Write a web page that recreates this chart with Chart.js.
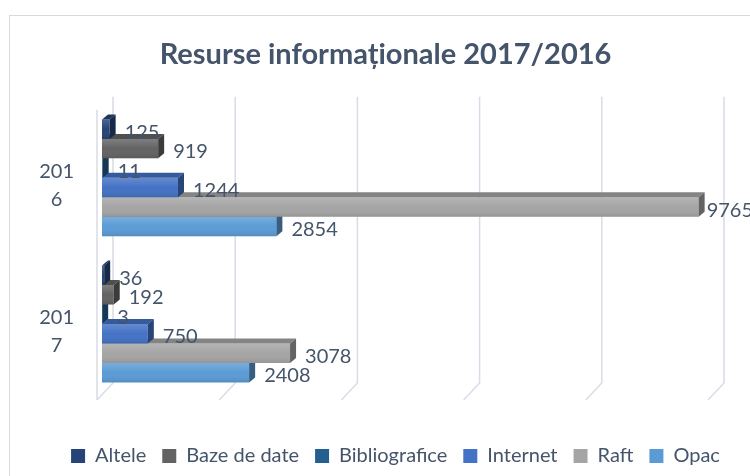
<!DOCTYPE html>
<html>
<head>
<meta charset="utf-8">
<script src="https://cdn.jsdelivr.net/npm/chart.js@4.4.0/dist/chart.umd.min.js"></script>
<style>
  html, body { margin: 0; padding: 0; background: #fff; overflow: hidden; }
  #wrap { position: relative; width: 750px; height: 476px; }
  #frame { position: absolute; left: 9px; top: 15px; width: 800px; height: 500px; border: 1px solid #d9d9d9; box-sizing: border-box; }
  canvas { position: absolute; left: 0; top: 0; }
</style>
</head>
<body>
<div id="wrap">
  <div id="frame"></div>
  <canvas id="chart" width="750" height="476"></canvas>
</div>
<script>
// data
const years = ['2016', '2017'];
const seriesNames = ['Altele', 'Baze de date', 'Bibliografice', 'Internet', 'Raft', 'Opac'];
const altele = [125, 36];
const bazeDeDate = [919, 192];
const bibliografice = [11, 3];
const internet = [1244, 750];
const raft = [9765, 3078];
const opac = [2854, 2408];

const seriesColors = ['#264478', '#636363', '#255e91', '#4472c4', '#a5a5a5', '#5b9bd5'];
const TEXT = '#44546a';
const GRID = '#d9dce6';
const DX = 6, DY = 5; // depth of the fake 3D faces

const shade = (hex, f) => {
  const n = parseInt(hex.slice(1), 16);
  const c = [(n >> 16) & 255, (n >> 8) & 255, n & 255].map(v => Math.round(v * f));
  return `rgb(${c[0]}, ${c[1]}, ${c[2]})`;
};

// back wall + floor lines
const wallPlugin = {
  id: 'wall',
  beforeDatasetsDraw(chart) {
    const { ctx, chartArea, scales: { x } } = chart;
    const zero = x.getPixelForValue(0);
    ctx.save();
    ctx.strokeStyle = GRID;
    ctx.lineWidth = 1.5;
    ctx.beginPath();
    ctx.moveTo(zero - 5, chartArea.top + 5);
    ctx.lineTo(zero - 5, chartArea.bottom + 3);
    x.ticks.forEach(t => {
      const px = x.getPixelForValue(t.value);
      ctx.moveTo(px + 11, chartArea.top - 8);
      ctx.lineTo(px + 11, chartArea.bottom - 14);
      ctx.lineTo(px - 5, chartArea.bottom + 3);
    });
    ctx.stroke();
    ctx.restore();
  }
};

// top and side faces for each bar
const bar3dPlugin = {
  id: 'bar3d',
  afterDatasetDraw(chart, args) {
    const { ctx } = chart;
    const color = chart.data.datasets[args.index].backgroundColor;
    ctx.save();
    args.meta.data.forEach(bar => {
      const { x, y, base, height } = bar.getProps(['x', 'y', 'base', 'height'], true);
      const top = y - height / 2;
      const bottom = y + height / 2;

      const g = ctx.createLinearGradient(0, top, 0, bottom);
      g.addColorStop(0, 'rgba(255,255,255,0.18)');
      g.addColorStop(0.5, 'rgba(255,255,255,0)');
      g.addColorStop(1, 'rgba(0,0,0,0.10)');
      ctx.fillStyle = g;
      ctx.fillRect(base, top, x - base, height);

      ctx.fillStyle = shade(color, 0.8);
      ctx.beginPath();
      ctx.moveTo(base, top);
      ctx.lineTo(x, top);
      ctx.lineTo(x + DX, top - DY);
      ctx.lineTo(base + DX, top - DY);
      ctx.closePath();
      ctx.fill();

      ctx.fillStyle = shade(color, 0.6);
      ctx.beginPath();
      ctx.moveTo(x, top);
      ctx.lineTo(x + DX, top - DY);
      ctx.lineTo(x + DX, bottom - DY);
      ctx.lineTo(x, bottom);
      ctx.closePath();
      ctx.fill();
    });
    ctx.restore();
  }
};

const valueLabels = {
  id: 'valueLabels',
  afterDatasetsDraw(chart) {
    const { ctx } = chart;
    ctx.save();
    ctx.font = '20px Lato';
    ctx.fillStyle = TEXT;
    ctx.textAlign = 'left';
    ctx.textBaseline = 'middle';
    chart.data.datasets.forEach((ds, i) => {
      chart.getDatasetMeta(i).data.forEach((bar, j) => {
        const { x, y } = bar.getProps(['x', 'y'], true);
        const txt = String(ds.data[j]);
        // pull the label in when it would run off the canvas
        const lx = x + 15 + ctx.measureText(txt).width > chart.width ? x + 8 : x + 15;
        ctx.fillText(txt, lx, y + 3);
      });
    });
    ctx.restore();
  }
};

// title and legend sit a bit right of centre in the original
const boxShift = {
  id: 'boxShift',
  afterLayout(chart) {
    chart.legend.left += 39;
    chart.legend.right += 39;
    chart.titleBlock.left += 29;
    chart.titleBlock.right += 29;
  }
};

const values = [altele, bazeDeDate, bibliografice, internet, raft, opac];

new Chart(document.getElementById('chart'), {
  type: 'bar',
  data: {
    labels: years,
    datasets: seriesNames.map((name, i) => ({
      label: name,
      data: values[i],
      backgroundColor: seriesColors[i],
      borderWidth: 0,
      categoryPercentage: 0.8,
      barPercentage: 1
    }))
  },
  options: {
    indexAxis: 'y',
    responsive: false,
    animation: false,
    layout: { padding: { left: 0, right: 37, top: 0, bottom: 0 } },
    plugins: {
      title: {
        display: true,
        text: 'Resurse informaționale 2017/2016',
        color: TEXT,
        font: { family: 'Lato', size: 29, weight: 'bold' },
        padding: { top: 37, bottom: 33 }
      },
      legend: {
        position: 'bottom',
        labels: {
          boxWidth: 14,
          boxHeight: 14,
          padding: 16,
          color: TEXT,
          font: { family: 'Lato', size: 20 }
        }
      },
      tooltip: { enabled: false }
    },
    scales: {
      x: {
        min: 0,
        max: 10000,
        ticks: { display: false, stepSize: 2000 },
        grid: { display: false },
        border: { display: false },
        afterFit(scale) { scale.height = 33; }
      },
      y: {
        ticks: {
          color: TEXT,
          font: { family: 'Lato', size: 20, lineHeight: 1.4 },
          padding: 20,
          labelOffset: 8,
          crossAlign: 'center',
          callback: function (value) {
            const s = this.getLabelForValue(value);
            return [s.slice(0, 3), s.slice(3)];
          }
        },
        grid: { display: false },
        border: { display: false },
        afterFit(scale) { scale.width = 102; }
      }
    }
  },
  plugins: [wallPlugin, bar3dPlugin, valueLabels, boxShift]
});
</script>
</body>
</html>
